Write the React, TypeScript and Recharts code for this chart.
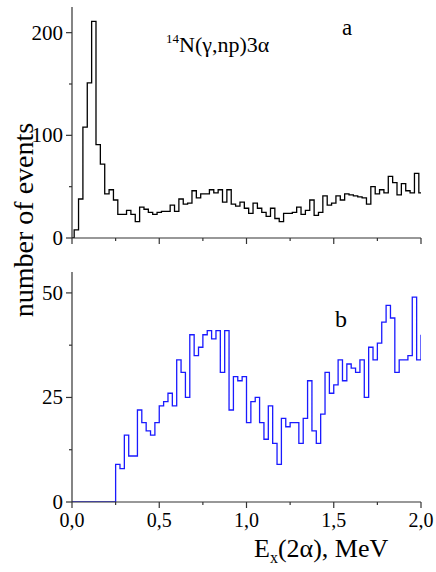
import { LineChart, Line, XAxis, YAxis } from "recharts";

const binWidth = 0.025;

// panel a: bins centred on k * binWidth (k = 0..80)
const topCounts = [
  0, 8, 38, 108, 151, 211, 91, 72, 43, 47,
  37, 23, 23, 27, 23, 16, 30, 28, 25, 23,
  25, 26, 26, 32, 26, 38, 33, 34, 46, 39,
  43, 43, 47, 44, 47, 35, 47, 33, 31, 35,
  29, 24, 34, 29, 25, 21, 29, 19, 16, 24,
  24, 25, 30, 23, 27, 37, 22, 25, 41, 32,
  34, 41, 37, 43, 42, 41, 40, 39, 33, 50,
  43, 47, 44, 60, 54, 42, 53, 46, 44, 63,
  44,
];

// panel b: bins start at k * binWidth; the last one starts at 2.0 and only its edge shows
const bottomCounts = [
  0, 0, 0, 0, 0, 0, 0, 0, 0, 0,
  9, 8, 16, 11, 11, 22, 19, 17, 16, 19,
  23, 24, 26, 23, 34, 31, 25, 40, 35, 37,
  40, 41, 39, 41, 31, 41, 22, 30, 29, 30,
  19, 24, 25, 19, 15, 23, 14, 9, 20, 18,
  19, 19, 14, 20, 29, 17, 14, 21, 31, 26,
  28, 34, 29, 33, 32, 31, 34, 25, 37, 34,
  38, 43, 47, 44, 31, 34, 34, 35, 49, 34,
  40,
];

const xTicks = [0, 0.25, 0.5, 0.75, 1, 1.25, 1.5, 1.75, 2];
const xLabelValues = [0, 0.5, 1, 1.5, 2];
const topYTicks = [0, 50, 100, 150, 200];
const topYLabels = [0, 100, 200];
const bottomYTicks = [0, 12.5, 25, 37.5, 50];
const bottomYLabels = [0, 25, 50];

const topData = [
  ...topCounts.map((v, i) => ({ x: (i - 0.5) * binWidth, y: v })),
  { x: (topCounts.length - 0.5) * binWidth, y: topCounts[topCounts.length - 1] },
];
const bottomData = bottomCounts.map((v, i) => ({ x: i * binWidth, y: v }));

const axisColor = "#333";
const font = "'Liberation Serif', 'Times New Roman', serif";

const makeXTick = (labels: number[] | null) => (props: any) => {
  const { x, y, payload } = props;
  const major = xLabelValues.includes(payload.value);
  return (
    <g>
      <line x1={x} x2={x} y1={y} y2={y + (major ? 6 : 3)} stroke={axisColor} strokeWidth={1.2} />
      {labels && labels.includes(payload.value) && (
        <text x={x} y={y + 25} textAnchor="middle" fontFamily={font} fontSize={20} fill="#000">
          {payload.value.toFixed(1).replace(".", ",")}
        </text>
      )}
    </g>
  );
};

const makeYTick = (labels: number[]) => (props: any) => {
  const { x, y, payload } = props;
  const major = labels.includes(payload.value);
  return (
    <g>
      <line x1={x} x2={x - (major ? 6 : 3)} y1={y} y2={y} stroke={axisColor} strokeWidth={1.2} />
      {major && (
        <text x={x - 9} y={y + 7} textAnchor="end" fontFamily={font} fontSize={21} fill="#000">
          {payload.value}
        </text>
      )}
    </g>
  );
};

export default function App() {
  return (
    <div style={{ position: "absolute", left: 0, top: 0, width: 436, height: 572, background: "#fff" }}>
      <div style={{ position: "absolute", left: 0, top: 0 }}>
        <LineChart width={436} height={262} data={topData} margin={{ top: 7, right: 15, bottom: 0, left: 0 }}>
          <XAxis
            dataKey="x"
            type="number"
            domain={[0, 2]}
            allowDataOverflow
            ticks={xTicks}
            interval={0}
            height={24}
            tickSize={0}
            tickMargin={0}
            tickLine={false}
            tick={makeXTick(null)}
            axisLine={{ stroke: axisColor, strokeWidth: 1.2 }}
          />
          <YAxis
            type="number"
            domain={[0, 225]}
            allowDataOverflow
            ticks={topYTicks}
            interval={0}
            width={72}
            tickSize={0}
            tickMargin={0}
            tickLine={false}
            tick={makeYTick(topYLabels)}
            axisLine={{ stroke: axisColor, strokeWidth: 1.2 }}
          />
          <Line
            dataKey="y"
            type="stepAfter"
            stroke="#000"
            strokeWidth={1.3}
            dot={false}
            isAnimationActive={false}
          />
        </LineChart>
      </div>
      <div style={{ position: "absolute", left: 0, top: 0 }}>
        <LineChart width={436} height={572} data={bottomData} margin={{ top: 272, right: 15, bottom: 40, left: 0 }}>
          <XAxis
            dataKey="x"
            type="number"
            domain={[0, 2]}
            allowDataOverflow
            ticks={xTicks}
            interval={0}
            height={30}
            tickSize={0}
            tickMargin={0}
            tickLine={false}
            tick={makeXTick(xLabelValues)}
            axisLine={{ stroke: axisColor, strokeWidth: 1.2 }}
          />
          <YAxis
            type="number"
            domain={[0, 55]}
            allowDataOverflow
            ticks={bottomYTicks}
            interval={0}
            width={72}
            tickSize={0}
            tickMargin={0}
            tickLine={false}
            tick={makeYTick(bottomYLabels)}
            axisLine={{ stroke: axisColor, strokeWidth: 1.2 }}
          />
          <Line
            dataKey="y"
            type="stepAfter"
            stroke="#1a1aff"
            strokeWidth={1.3}
            dot={false}
            isAnimationActive={false}
          />
        </LineChart>
      </div>
      <svg
        width={436}
        height={572}
        style={{ position: "absolute", left: 0, top: 0, pointerEvents: "none" }}
        fontFamily={font}
      >
        <text x={33} y={220} transform="rotate(-90 33 220)" textAnchor="middle" fontSize={28} fill="#000">
          number of events
        </text>
        <text x={166} y={52} fontSize={22} fill="#000">
          <tspan fontSize={13} dy={-9}>14</tspan>
          <tspan dy={9}>N(γ,np)3α</tspan>
        </text>
        <text x={342} y={35} fontSize={23} fill="#000">a</text>
        <text x={335} y={327} fontSize={24} fill="#000">b</text>
        <text x={254} y={557} fontSize={26} fill="#000">
          <tspan>E</tspan>
          <tspan fontSize={16} dy={6}>x</tspan>
          <tspan dy={-6}>(2α), MeV</tspan>
        </text>
      </svg>
    </div>
  );
}
